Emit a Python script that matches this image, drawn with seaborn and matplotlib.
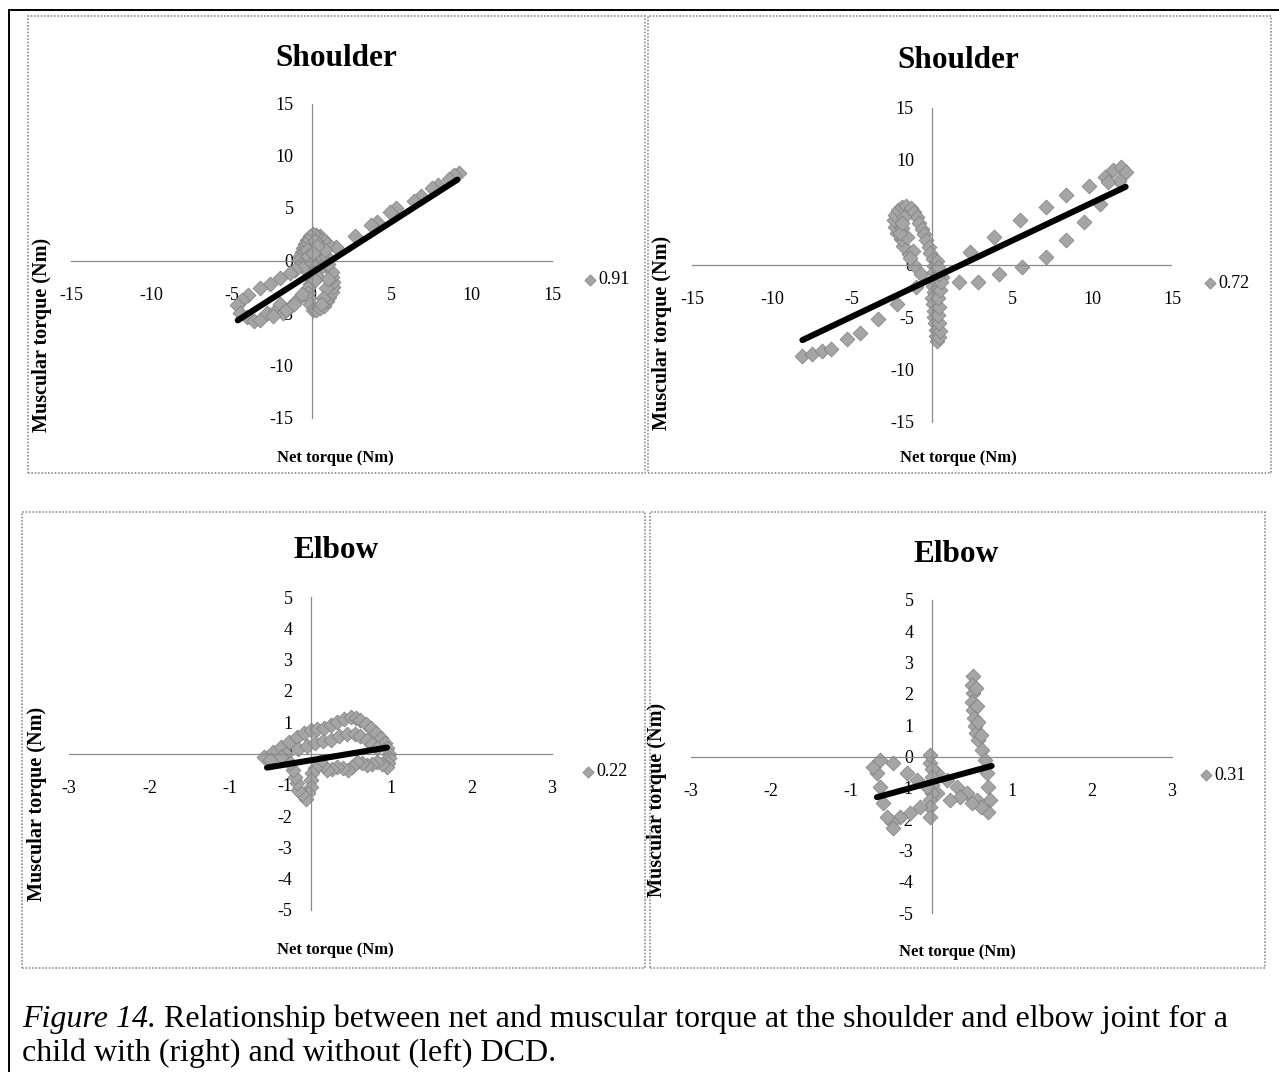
import matplotlib
matplotlib.use("Agg")
import matplotlib.pyplot as plt
from matplotlib.patches import Rectangle
from matplotlib.lines import Line2D
import seaborn as sns

# ---------------- data ----------------
# Shoulder, child without DCD (net torque, muscular torque in Nm)
sh_left_net = [9.2, 8.9, 8.6, 7.9, 7.5, 6.8, 6.4, 5.3, 4.9, 4.1, 3.7, 2.7, 1.5,
               0.95, 0.7, 0.5, 0.3, 0.1, -0.1, -0.25, -0.4, -0.5, -0.6, -0.7, -0.8, -0.65, -0.5,
               0.6, 0.5, 0.55, 0.6, 0.75, 0.9, 0.85, 0.2, 0.35, -0.3, -0.2, 0.0, 0.3, 0.1,
               0.1, -0.1, -0.1, -0.2, -0.2, -0.15, -0.1, 0.1, 0.3, 0.5, 0.75, 0.95, 1.1, 1.25,
               1.35, 1.35, 1.3, 1.25, 1.05, 0.4, 0.3, 0.9, 1.0, 0.7, 0.6, 0.2,
               -1.0, -1.35, -1.95, -2.6, -3.2, -3.95, -4.35, -4.65, -4.45, -4.05, -3.6, -3.2,
               -2.8, -2.2, -1.95, -1.75, -1.35, -0.9, -0.6, -2.4, -1.6, -1.1]
sh_left_musc = [8.3, 8.1, 7.8, 7.2, 6.9, 6.1, 5.7, 5.0, 4.6, 3.7, 3.4, 2.3, 1.3,
                1.7, 2.0, 2.3, 2.45, 2.5, 2.3, 2.0, 1.6, 1.2, 0.85, 0.45, 0.05, -0.3, -0.6,
                1.3, 0.9, 0.5, 0.1, -0.3, 0.4, 1.0, 1.9, 1.4, 1.0, 0.4, -0.2, -0.5, 0.7,
                -1.2, -1.7, -2.2, -2.6, -3.1, -3.6, -4.1, -4.7, -4.7, -4.55, -4.3, -3.9, -3.45, -3.0,
                -2.5, -2.0, -1.55, -1.1, -0.3, -0.9, -1.4, -2.6, -1.8, -3.6, -4.1, -1.9,
                -0.9, -1.2, -1.7, -2.2, -2.65, -3.3, -3.75, -4.25, -5.0, -5.35, -5.8, -5.65,
                -5.0, -4.7, -4.1, -5.0, -4.4, -3.75, -3.2, -5.3, -4.7, -4.1]
sh_left_fit_net = [-4.6, 9.1]
sh_left_fit_musc = [-5.7, 7.7]

# Shoulder, child with DCD
sh_right_net = [2.4, 3.9, 5.5, 7.1, 8.4, 9.8, 10.8, 11.3, 11.8, 12.1, 11.7, 11.0,
                10.5, 9.5, 8.4, 7.1, 5.6, 4.2, 2.9, 1.7, 0.6,
                -8.1, -7.5, -6.9, -6.3, -5.3, -4.5, -3.4, -2.2, -1.0,
                -0.7, -1.1, -1.45, -1.8, -1.95, -2.2, -2.3, -2.35, -2.3, -2.1, -1.9, -1.6, -1.3,
                -1.1, -0.95, -0.8, -0.65, -0.5, -0.35, -0.2, -0.1, 0.05, 0.1, 0.3,
                -1.9, -1.75, -1.55, -1.2, -2.0, -1.85, -1.35,
                0.1, 0.1, 0.05, 0.1, 0.0, 0.05, 0.1, 0.15, 0.2, 0.25, 0.25, 0.3,
                0.45, 0.5, 0.45, 0.4, 0.45, 0.4, 0.5, 0.55, 0.45, 0.35]
sh_right_musc = [1.2, 2.6, 4.2, 5.5, 6.6, 7.5, 8.3, 9.0, 9.3, 8.8, 8.0, 7.9,
                 5.8, 4.05, 2.3, 0.7, -0.25, -0.9, -1.7, -1.7, -1.2,
                 -8.7, -8.5, -8.2, -8.0, -7.1, -6.5, -5.2, -3.8, -2.1,
                 -0.9, 0.0, 1.0, 1.8, 2.4, 3.0, 3.6, 4.2, 4.7, 5.2, 5.5, 5.6, 5.4,
                 5.0, 4.5, 4.0, 3.4, 2.9, 2.3, 1.7, 1.1, 0.5, -0.1, 0.3,
                 3.5, 4.5, 2.6, 1.3, 3.0, 4.0, 0.6,
                 -0.7, -1.4, -2.0, -2.6, -3.2, -3.8, -4.4, -5.0, -5.6, -6.2, -6.8, -7.3,
                 -6.9, -6.3, -5.6, -4.8, -4.0, -3.2, -2.4, -1.7, -0.9, -0.2]
sh_right_fit_net = [-8.1, 12.1]
sh_right_fit_musc = [-7.2, 7.4]

# Elbow, child without DCD
el_left_net = [-0.58, -0.47, -0.37, -0.27, -0.17, -0.08, 0.0, 0.08, 0.17, 0.25, 0.33, 0.42, 0.5,
               0.56, 0.62, 0.69, 0.75, 0.81, 0.87, 0.92, 0.95, 0.97, 0.97, 0.96, 0.95,
               -0.3, -0.15, -0.04, 0.05, 0.15, 0.25, 0.35, 0.45, 0.55, 0.62, 0.7, 0.77, 0.83,
               0.89, 0.83, 0.77, 0.7, 0.64, 0.58, 0.52, 0.46, 0.4, 0.33, 0.27, 0.21, 0.16, 0.12,
               0.05, 0.02, 0.01, 0.0, -0.03, -0.06, -0.1, -0.15, -0.17, -0.19, -0.22, -0.25,
               -0.37, -0.5]
el_left_musc = [-0.1, 0.05, 0.2, 0.37, 0.52, 0.65, 0.74, 0.78, 0.8, 0.9, 1.0, 1.1, 1.17,
                1.12, 1.07, 0.95, 0.8, 0.65, 0.48, 0.32, 0.17, 0.0, -0.15, -0.3, -0.43,
                0.0, 0.15, 0.25, 0.35, 0.4, 0.43, 0.55, 0.62, 0.62, 0.55, 0.43, 0.3, 0.17,
                -0.35, -0.28, -0.35, -0.37, -0.3, -0.28, -0.42, -0.52, -0.45, -0.43, -0.5, -0.52, -0.38, -0.28,
                -0.45, -0.63, -0.85, -1.07, -1.25, -1.45, -1.3, -1.17, -0.95, -0.75, -0.52, -0.31,
                -0.11, -0.2]
el_left_fit_net = [-0.54, 0.95]
el_left_fit_musc = [-0.45, 0.19]

# Elbow, child with DCD
el_right_net = [0.52, 0.51, 0.52, 0.51, 0.52, 0.53, 0.54, 0.56, 0.58, 0.63, 0.67, 0.69, 0.70, 0.73, 0.70,
                0.56, 0.57, 0.58, 0.62,
                0.57, 0.44, 0.32, 0.19, 0.07, -0.02, -0.02,
                0.62, 0.5, 0.36, 0.23, 0.07,
                0.0, 0.0, 0.0, 0.0, -0.02, -0.02, -0.02,
                -0.14, -0.27, -0.39, -0.49, -0.48, -0.56, -0.60, -0.64, -0.68, -0.73, -0.64,
                -0.48, -0.31, -0.18, -0.06]
el_right_musc = [2.56, 2.3, 2.03, 1.75, 1.5, 1.23, 0.96, 0.75, 0.53, 0.21, -0.1, -0.52, -0.97, -1.38, -1.77,
                 2.2, 1.6, 1.1, 0.7,
                 -1.38, -1.16, -0.97, -0.74, -0.52, -0.2, 0.05,
                 -1.6, -1.5, -1.28, -1.38, -1.17,
                 -0.4, -0.64, -0.9, -1.17, -1.4, -1.6, -1.93,
                 -1.6, -1.8, -1.93, -2.1, -2.3, -1.93, -1.49, -0.97, -0.52, -0.32, -0.1,
                 -0.21, -0.52, -0.74, -0.96]
el_right_fit_net = [-0.68, 0.75]
el_right_fit_musc = [-1.30, -0.30]

titles = ["Shoulder", "Shoulder", "Elbow", "Elbow"]
legend_labels = ["0.91", "0.72", "0.22", "0.31"]
shoulder_ticks = [-15, -10, -5, 0, 5, 10, 15]
elbow_xticks = [-3, -2, -1, 0, 1, 2, 3]
elbow_yticks = [-5, -4, -3, -2, -1, 0, 1, 2, 3, 4, 5]
x_label = "Net torque (Nm)"
y_label = "Muscular torque (Nm)"
caption_lead = "Figure 14."
caption_rest = (" Relationship between net and muscular torque at the shoulder and elbow joint for a",
                "child with (right) and without (left) DCD.")

# ---------------- styling ----------------
sns.set_style("white")
plt.rcParams["font.family"] = ["Liberation Serif", "DejaVu Serif"]
plt.rcParams["text.color"] = "black"
plt.rcParams["axes.labelcolor"] = "black"

W, H = 1279, 1072
fig = plt.figure(figsize=(W / 100, H / 100), dpi=100)
fig.patch.set_facecolor("white")


def fx(px):
    return px / W


def fy(py):
    return 1 - py / H


panels = [
    dict(box=(71, 103, 552, 418), net=sh_left_net, musc=sh_left_musc,
         fnet=sh_left_fit_net, fmusc=sh_left_fit_musc, xt=shoulder_ticks, yt=shoulder_ticks,
         title=(336, 58), xl=(335, 458), yl=(42, 335), leg=(584, 280),
         frame=(28, 16, 645, 473)),
    dict(box=(692, 107, 1172, 422), net=sh_right_net, musc=sh_right_musc,
         fnet=sh_right_fit_net, fmusc=sh_right_fit_musc, xt=shoulder_ticks, yt=shoulder_ticks,
         title=(958, 60), xl=(958, 458), yl=(662, 333), leg=(1204, 283),
         frame=(648, 16, 1271, 473)),
    dict(box=(69, 597, 552, 910), net=el_left_net, musc=el_left_musc,
         fnet=el_left_fit_net, fmusc=el_left_fit_musc, xt=elbow_xticks, yt=elbow_yticks,
         title=(336, 551), xl=(335, 950), yl=(37, 804), leg=(582, 772),
         frame=(22, 512, 645, 968)),
    dict(box=(691, 600, 1172, 913), net=el_right_net, musc=el_right_musc,
         fnet=el_right_fit_net, fmusc=el_right_fit_musc, xt=elbow_xticks, yt=elbow_yticks,
         title=(956, 554), xl=(957, 952), yl=(657, 800), leg=(1200, 775),
         frame=(650, 512, 1265, 968)),
]

axis_grey = "#8a8a8a"

for p, title, lab in zip(panels, titles, legend_labels):
    l, t, r, b = p["box"]
    ax = fig.add_axes([fx(l), fy(b), (r - l) / W, (b - t) / H])
    ax.set_facecolor("none")

    sns.scatterplot(x=p["net"], y=p["musc"], ax=ax, marker="D", s=58,
                    color="#a5a5a5", edgecolor="#7d7d7d", linewidth=0.5,
                    label=lab, zorder=2)
    sns.lineplot(x=p["fnet"], y=p["fmusc"], ax=ax, color="black",
                 linewidth=4.4, zorder=3, legend=False)

    ax.set_xlim(p["xt"][0], p["xt"][-1])
    ax.set_ylim(p["yt"][0], p["yt"][-1])
    ax.set_xticks(p["xt"])
    ax.set_yticks(p["yt"])
    ax.set_xticklabels([str(v) for v in p["xt"]])
    ax.set_yticklabels([str(v) for v in p["yt"]])

    for side in ("top", "right"):
        ax.spines[side].set_visible(False)
    for side in ("left", "bottom"):
        ax.spines[side].set_position("zero")
        ax.spines[side].set_color(axis_grey)
        ax.spines[side].set_linestyle((0, (1, 1)))
        ax.spines[side].set_linewidth(0.9)
    ax.tick_params(axis="both", direction="out", length=4, width=0.8,
                   color=axis_grey, labelsize=13, labelcolor="black")
    ax.tick_params(axis="x", pad=15)
    ax.tick_params(axis="y", pad=9)

    ax.set_xlabel(x_label, fontsize=12, fontweight="bold")
    ax.xaxis.set_label_coords(fx(p["xl"][0]), fy(p["xl"][1]), transform=fig.transFigure)
    ax.xaxis.label.set_va("center")
    ax.set_ylabel(y_label, fontsize=14.5, fontweight="bold")
    ax.yaxis.set_label_coords(fx(p["yl"][0]), fy(p["yl"][1]), transform=fig.transFigure)
    ax.yaxis.label.set_va("center")
    ax.yaxis.label.set_ha("center")

    fig.text(fx(p["title"][0]), fy(p["title"][1]), title, fontsize=22.5,
             fontweight="bold", ha="center", va="center")

    handles = ax.collections[:1]
    ax.legend(handles=handles, labels=[lab], loc="center left",
              bbox_to_anchor=(fx(p["leg"][0]), fy(p["leg"][1])),
              bbox_transform=fig.transFigure, frameon=False,
              handlelength=0.7, handletextpad=0.1, borderpad=0, borderaxespad=0,
              fontsize=13, markerscale=0.75, labelcolor="black")

    fl, ft, fr, fb = p["frame"]
    fig.add_artist(Rectangle((fx(fl), fy(fb)), (fr - fl) / W, (fb - ft) / H,
                             transform=fig.transFigure, fill=False,
                             edgecolor="#8f8f8f", linestyle=(0, (1, 1)), linewidth=1.2))

# outer page border
fig.add_artist(Line2D([fx(9), fx(9)], [fy(10), fy(1072)], transform=fig.transFigure,
                      color="black", linewidth=1.4))
fig.add_artist(Line2D([fx(9), fx(1279)], [fy(10), fy(10)], transform=fig.transFigure,
                      color="black", linewidth=1.4))

# caption
cap_size = 23
lead = fig.text(fx(22), fy(1019), caption_lead, fontsize=cap_size, style="italic",
                va="center", ha="left")
fig.canvas.draw()
bb = lead.get_window_extent()
fig.text(bb.x1 / W, fy(1019), caption_rest[0], fontsize=cap_size, va="center", ha="left")
fig.text(fx(22), fy(1053), caption_rest[1], fontsize=cap_size, va="center", ha="left")

fig.savefig("out.png", dpi=100, facecolor="white")
